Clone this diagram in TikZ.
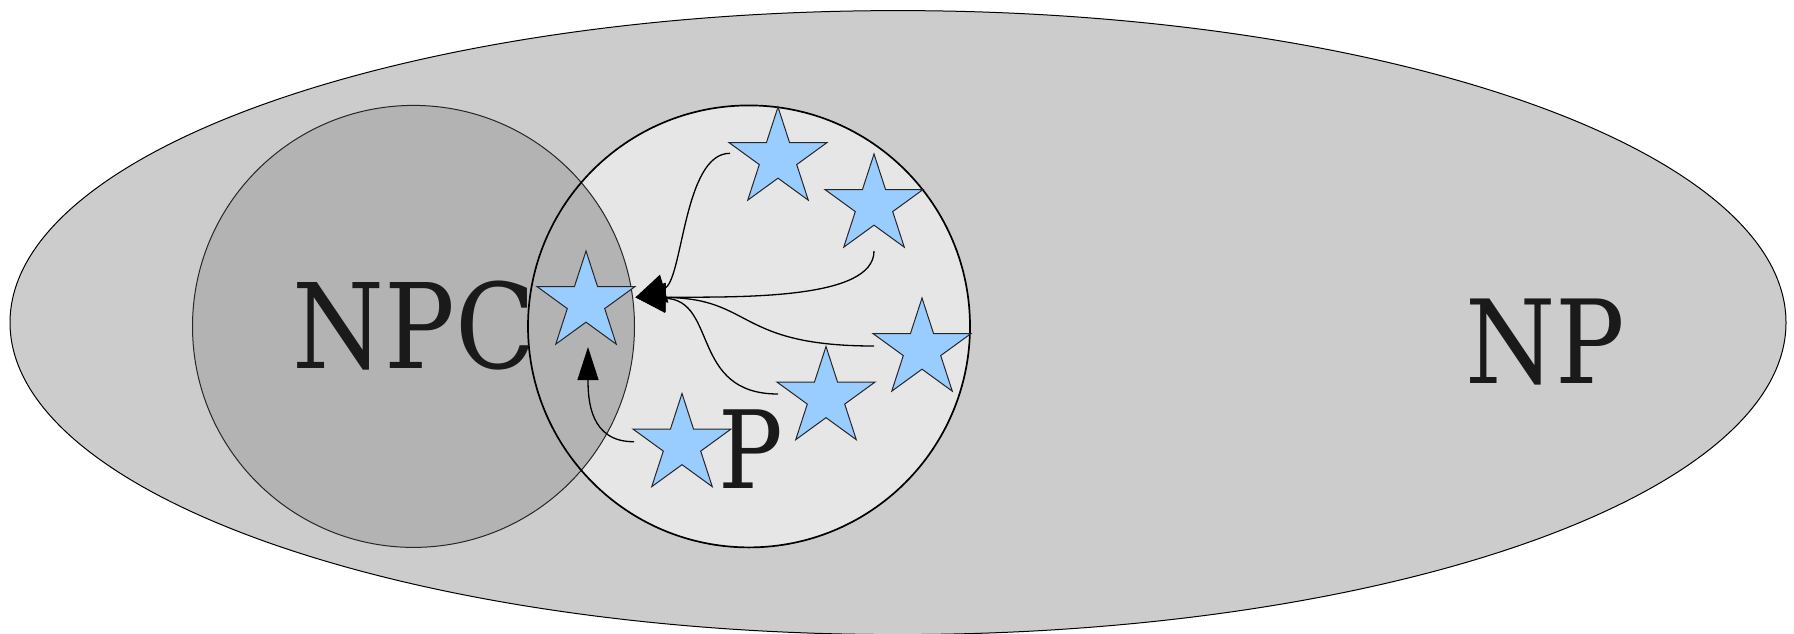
\documentclass[tikz,border=0pt]{standalone}
\usepackage{fontspec}
\setmainfont{DejaVu Serif}
\newfontfamily\labfont[FakeStretch=0.89]{DejaVu Serif}
\usetikzlibrary{shapes.geometric,arrows.meta}
\definecolor{npfill}{HTML}{CCCCCC}
\definecolor{npcfill}{HTML}{B3B3B3}
\definecolor{pfill}{HTML}{E6E6E6}
\definecolor{starfill}{HTML}{99CCFF}
\definecolor{txt}{HTML}{1A1A1A}
\begin{document}
\begin{tikzpicture}[x=1pt,y=-1pt,
  prob/.style={star, star points=5, star point ratio=2.618, minimum size=103pt,
    inner sep=0pt, outer sep=0pt, fill=starfill, draw=black!85, line width=1pt},
  reduce/.style={line width=1.3pt, -{Triangle[length=30pt,width=29pt]}},
  reducesmall/.style={line width=1.3pt, -{Triangle[length=33pt,width=21pt]}},
  lab/.style={text=txt, anchor=base, inner sep=0pt}]
\useasboundingbox (0,0) rectangle (1794,633);
% sets
\node[ellipse, fill=npfill, draw=black, line width=1pt, inner sep=0pt,
      minimum width=1776pt, minimum height=624pt] (np) at (898,322.6) {};
\fill[pfill] (749,326.4) circle [radius=221];
\node[circle, fill=npcfill, draw=black!85, line width=1pt, inner sep=0pt,
      minimum size=442pt] (npc) at (413.5,326.4) {};
\node[circle, draw=black, line width=1.7pt, inner sep=0pt, minimum size=442pt] (p) at (749,326.4) {};
% labels
\node[lab, font=\labfont\fontsize{118}{125}\selectfont] (npclab) at (414.2,368.3) {NPC};
\node[lab, font=\labfont\fontsize{116}{125}\selectfont] (nplab) at (1545,383.3) {NP};
\node[lab, font=\labfont\fontsize{108}{115}\selectfont] (plab) at (750.6,488) {P};
% problems
\node[prob] (s0) at (586,302.5) {};
\node[prob] (s1) at (778,158.5) {};
\node[prob] (s2) at (874,205.5) {};
\node[prob] (s3) at (922,349.5) {};
\node[prob] (s4) at (826,398) {};
\node[prob] (s5) at (682,445) {};
% reductions
\draw[reduce] ([shift={(-48,-5.2)}]s1.center) .. controls (683,153) and (683,283) .. ([shift={(49.5,-5.2)}]s0.center);
\draw[reduce] ([shift={(0,45.5)}]s2.center) .. controls (874,300) and (740,297) .. ([shift={(49.5,-5.2)}]s0.center);
\draw[reduce] ([shift={(-48,-3.5)}]s3.center) .. controls (735,346) and (754,298) .. ([shift={(49.5,-5.2)}]s0.center);
\draw[reduce] ([shift={(-48,-4)}]s4.center) .. controls (690,394) and (718,300) .. ([shift={(49.5,-5.2)}]s0.center);
\draw[reducesmall] ([shift={(-48,-3.3)}]s5.center) .. controls (590,442) and (588,400) .. ([shift={(2,44.5)}]s0.center);
\end{tikzpicture}
\end{document}
